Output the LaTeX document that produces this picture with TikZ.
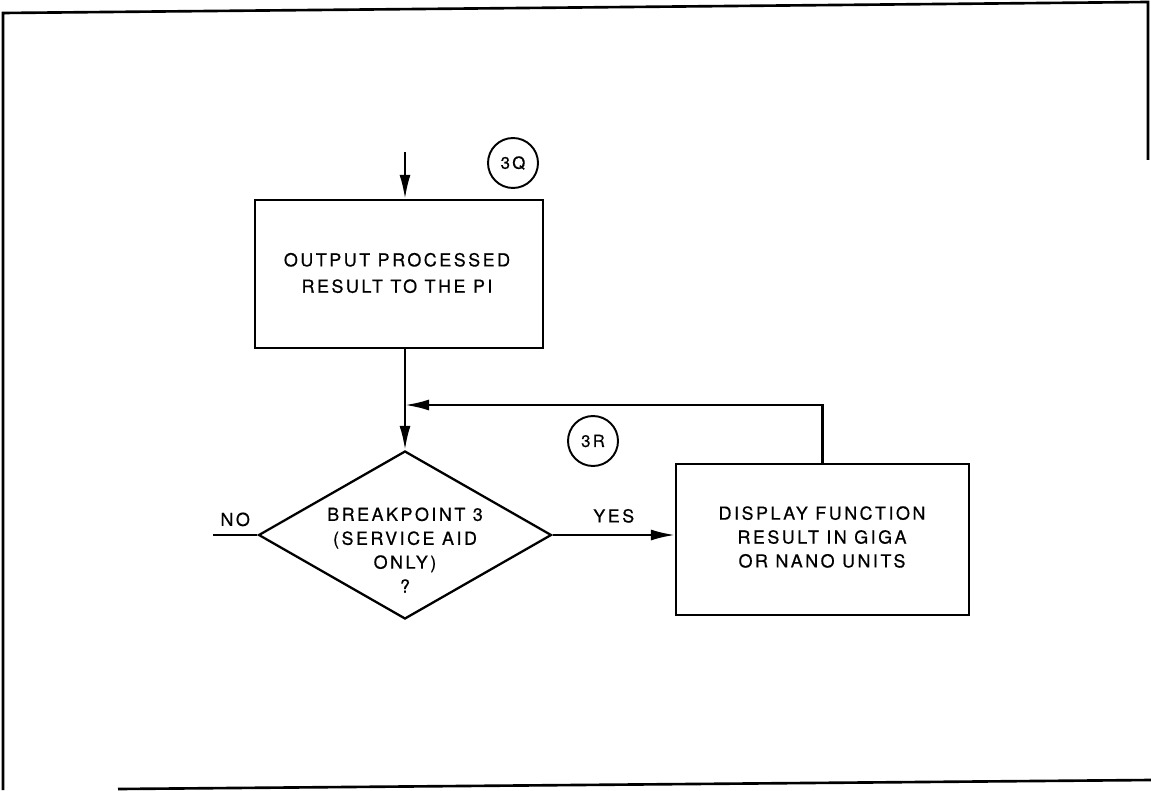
\documentclass[tikz,border=0pt]{standalone}
\usepackage{fontspec}
\usepackage{tikz}
\usetikzlibrary{arrows.meta,positioning,calc,shapes.geometric}
\setmainfont{TeX Gyre Heros}
\newfontfamily\chartfont{TeX Gyre Heros}[LetterSpace=14, FakeBold=0.6]

\begin{document}
\begin{tikzpicture}[x=0.02cm, y=-0.02cm, >={Latex[length=0.48cm, width=0.22cm]},
    procbox/.style={draw, line width=1.3pt, inner sep=0pt},
    decision/.style={draw, diamond, line width=1.3pt, inner sep=0pt, minimum width=5.86cm, minimum height=3.36cm},
    conn/.style={line width=1.3pt},
    tag/.style={draw, circle, line width=1.1pt, minimum size=1.0cm, inner sep=0pt, font=\chartfont\fontsize{9.5}{10}\selectfont},
    txt/.style={font=\chartfont\fontsize{10.2}{13.6}\selectfont, align=center}]
      \useasboundingbox (0,0) rectangle (1151,790);
      % frame of the sheet
      \draw[line width=1.5pt] (3,790) -- (3,13) -- (1148,2) -- (1148,160);
      \draw[line width=1.5pt] (118,789) -- (1151,780);
      \node[procbox, minimum width=5.76cm, minimum height=2.96cm] (outbox) at (399,274) {};
      \node[txt, font=\chartfont\fontsize{10.2}{15}\selectfont] (outtext) at (397,273) {OUTPUT P\kern1.5pt ROCESSED\\RESULT TO THE PI};
      \node[decision] (brk) at (405,535) {};
      \node[txt] (brktext) at (405,550) {BREAKPOINT 3\\(SERVICE AID\\ONLY)\\?};
      \node[procbox, minimum width=5.86cm, minimum height=3.02cm] (dispbox) at (822.5,539.5) {};
      \node[txt] (disptext) at (822,537) {DISPLAY FUNCTION\\RESULT IN GIGA\\OR NANO UNITS};
      \node[tag] (tagq) at (513,163) {3Q};
      \node[tag] (tagr) at (593,441) {3R};
      \coordinate (entry) at (405,152);
      \coordinate (join) at (405,405);
      \coordinate (noend) at (213,535);
      \draw[->, conn] (entry) -- (entry |- outbox.north);
      \draw[->, conn] (entry |- outbox.south) -- (brk.north);
      \draw[->, conn] (dispbox.north) |- (join);
      \draw[->, conn] (brk.east) -- node[above=3pt, txt] (yes) {YES} (brk.east -| dispbox.west);
      \draw[conn] (brk.west) -- node[above=1pt, txt] (no) {NO} (noend);
    \end{tikzpicture}
\end{document}
